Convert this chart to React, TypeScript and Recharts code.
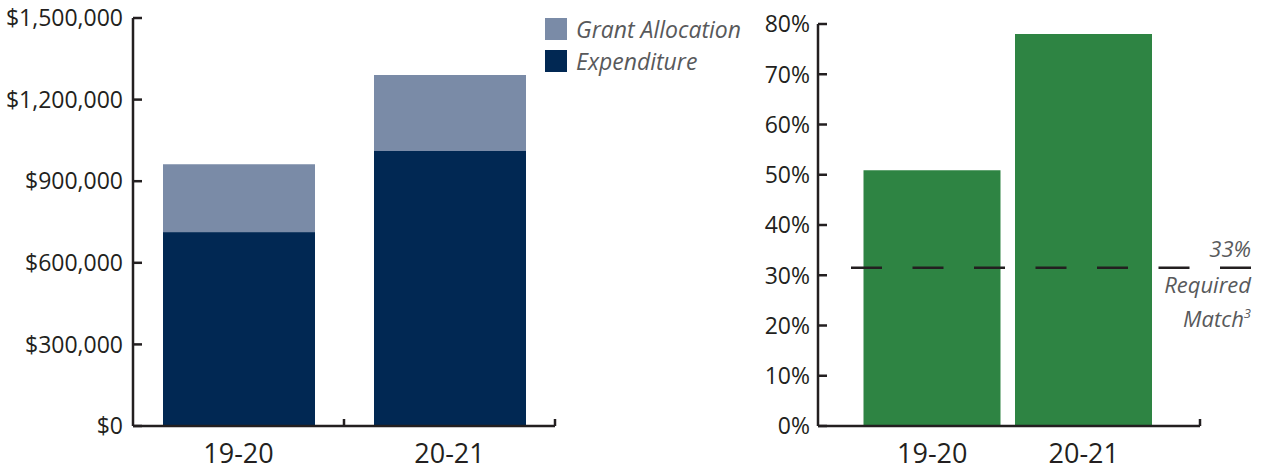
import React from 'react';
import { BarChart, Bar, XAxis, YAxis, Legend, ReferenceLine } from 'recharts';

// data
const years = ['19-20', '20-21'];
const grantAllocation = [962000, 1290000];
const expenditure = [712000, 1011000];
const matchPercent = [50.9, 78.0];
const requiredMatchLevel = 31.5; // where the dashed "33%" line sits in the picture
const requiredMatchLabel = ['33%', 'Required', 'Match'];
const dollarTicks = [0, 300000, 600000, 900000, 1200000, 1500000];
const percentTicks = [0, 10, 20, 30, 40, 50, 60, 70, 80];
const legendOrder = ['Grant Allocation', 'Expenditure'];

const spendData = years.map((year, i) => ({
  year,
  allocation: grantAllocation[i],
  expenditure: expenditure[i],
}));
const matchData = years.map((year, i) => ({ year, match: matchPercent[i] }));

const INK = '#231f20';
const NOTE = '#58595b';
const ALLOC = '#7a8ba7';
const NAVY = '#012853';
const GREEN = '#2e8443';
const FONT = '"Open Sans", sans-serif';

const fmtDollar = (v: number) => '$' + v.toLocaleString('en-US');
const fmtPct = (v: number) => `${v}%`;

// y ticks point into the plot, labels sit left of the axis
const makeYTick = (format: (v: number) => string, gap: number) => (props: any) => {
  const { x, y, payload } = props;
  return (
    <g>
      <line x1={x} y1={y} x2={x + 9} y2={y} stroke={INK} strokeWidth={2.5} />
      <text x={x - gap} y={y} dy="0.36em" textAnchor="end" fontSize={23} fill={INK} fontFamily={FONT}>
        {format(payload.value)}
      </text>
    </g>
  );
};

const XTick = (props: any) => {
  const { x, y, payload } = props;
  return (
    <text x={x} y={y + 37} textAnchor="middle" fontSize={27} fill={INK} fontFamily={FONT}>
      {payload.value}
    </text>
  );
};

// short upward tick at the end of a category band
const BandEndTick = (props: any) => {
  const { x1, y1, y2 } = props;
  const bottom = Math.max(y1, y2);
  return <line x1={x1} x2={x1} y1={bottom - 7} y2={bottom} stroke={INK} strokeWidth={2.5} />;
};

// upward tick at the right end of the baseline
const AxisEndTick = (props: any) => {
  const { x1, x2, y1 } = props;
  const right = Math.max(x1, x2);
  return <line x1={right} x2={right} y1={y1 - 7} y2={y1} stroke={INK} strokeWidth={2.5} />;
};

const RequiredMatchLine = (props: any) => {
  const { x1, x2, y1 } = props;
  const left = Math.min(x1, x2) + 33;
  const right = Math.max(x1, x2) + 51;
  const textProps = {
    x: right,
    textAnchor: 'end' as const,
    fontSize: 22,
    fontStyle: 'italic',
    fill: NOTE,
    fontFamily: FONT,
  };
  return (
    <g>
      <line x1={left} x2={right} y1={y1} y2={y1} stroke={INK} strokeWidth={2.5} strokeDasharray="31 30.5" />
      <text {...textProps} y={y1 - 11}>{requiredMatchLabel[0]}</text>
      <text {...textProps} y={y1 + 25}>{requiredMatchLabel[1]}</text>
      <text {...textProps} y={y1 + 59}>
        {requiredMatchLabel[2]}
        <tspan fontSize={13} dy={-9}>3</tspan>
      </text>
    </g>
  );
};

const renderLegend = (props: any) => {
  const payload = [...(props.payload || [])].sort(
    (a: any, b: any) => legendOrder.indexOf(a.value) - legendOrder.indexOf(b.value)
  );
  return (
    <div style={{ fontFamily: FONT }}>
      {payload.map((entry: any) => (
        <div key={entry.value} style={{ display: 'flex', alignItems: 'center', height: 32 }}>
          <span style={{ width: 22, height: 22, background: entry.color, marginRight: 9, display: 'inline-block' }} />
          <span style={{ fontStyle: 'italic', fontSize: 23, color: NOTE, lineHeight: '22px' }}>{entry.value}</span>
        </div>
      ))}
    </div>
  );
};

export default function App() {
  return (
    <div style={{ position: 'absolute', left: 0, top: 0, width: 1265, height: 471, background: '#fff', fontFamily: FONT }}>
      <div style={{ position: 'absolute', left: 0, top: 0 }}>
        <BarChart
          width={760}
          height={471}
          data={spendData}
          barGap={-152}
          margin={{ top: 18, right: 205, bottom: 0, left: 0 }}
        >
          <XAxis
            dataKey="year"
            height={45}
            tickSize={0}
            tickMargin={0}
            tickLine={false}
            tick={XTick}
            axisLine={{ stroke: INK, strokeWidth: 2.5 }}
          />
          <YAxis
            type="number"
            width={133}
            domain={[0, 1500000]}
            ticks={dollarTicks}
            tickSize={0}
            tickMargin={0}
            tickLine={false}
            tick={makeYTick(fmtDollar, 10)}
            axisLine={{ stroke: INK, strokeWidth: 2.5 }}
          />
          <Legend
            layout="vertical"
            align="center"
            verticalAlign="middle"
            content={renderLegend}
            wrapperStyle={{ left: 545, top: 13, width: 'auto' }}
          />
          <Bar dataKey="allocation" name="Grant Allocation" fill={ALLOC} barSize={152} isAnimationActive={false} />
          <Bar dataKey="expenditure" name="Expenditure" fill={NAVY} barSize={152} isAnimationActive={false} />
          {years.map((y) => (
            <ReferenceLine key={y} x={y} position="end" shape={BandEndTick} ifOverflow="visible" />
          ))}
        </BarChart>
      </div>
      <div style={{ position: 'absolute', left: 760, top: 0 }}>
        <BarChart width={505} height={471} data={matchData} margin={{ top: 24, right: 65, bottom: 0, left: 0 }}>
          <XAxis
            dataKey="year"
            height={45}
            padding={{ left: 38.5, right: 40.5 }}
            tickSize={0}
            tickMargin={0}
            tickLine={false}
            tick={XTick}
            axisLine={{ stroke: INK, strokeWidth: 2.5 }}
          />
          <YAxis
            type="number"
            width={58}
            domain={[0, 80]}
            ticks={percentTicks}
            tickSize={0}
            tickMargin={0}
            tickLine={false}
            tick={makeYTick(fmtPct, 8)}
            axisLine={{ stroke: INK, strokeWidth: 2.5 }}
          />
          <Bar dataKey="match" fill={GREEN} barSize={137} isAnimationActive={false} />
          <ReferenceLine y={0} shape={AxisEndTick} ifOverflow="visible" />
          <ReferenceLine y={requiredMatchLevel} shape={RequiredMatchLine} ifOverflow="visible" />
        </BarChart>
      </div>
    </div>
  );
}
